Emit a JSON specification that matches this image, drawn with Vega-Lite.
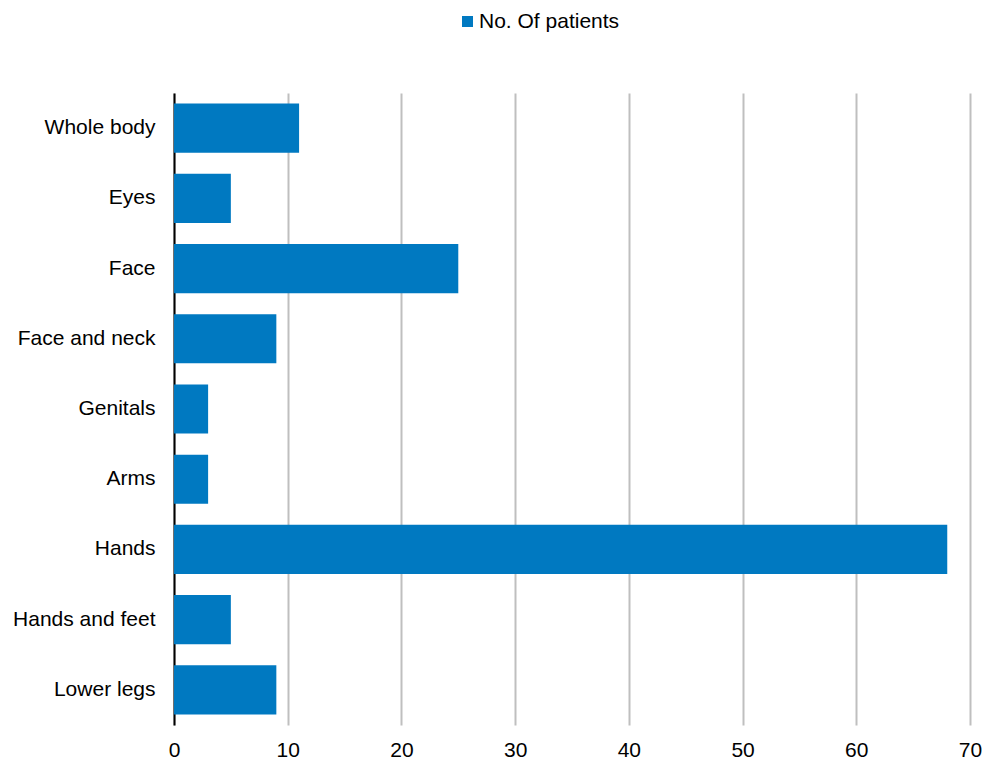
{
  "$schema": "https://vega.github.io/schema/vega-lite/v6.json",
  "autosize": "none",
  "width": 796,
  "height": 632,
  "padding": {"left": 174, "top": 93, "right": 16, "bottom": 42},
  "background": "white",
  "data": {
    "values": [
      {"site": "Whole body", "patients": 11},
      {"site": "Eyes", "patients": 5},
      {"site": "Face", "patients": 25},
      {"site": "Face and neck\u00a0", "patients": 9},
      {"site": "Genitals", "patients": 3},
      {"site": "Arms", "patients": 3},
      {"site": "Hands", "patients": 68},
      {"site": "Hands and feet", "patients": 5},
      {"site": "Lower legs", "patients": 9}
    ]
  },
  "config": {
    "view": {"stroke": null},
    "font": "Liberation Sans"
  },
  "mark": {"type": "bar"},
  "encoding": {
    "y": {
      "field": "site",
      "type": "nominal",
      "sort": null,
      "title": null,
      "scale": {"paddingInner": 0.3, "paddingOuter": 0.15},
      "axis": {
        "domainColor": "#000000",
        "domainWidth": 2,
        "ticks": false,
        "labelFont": "Liberation Sans",
        "labelFontSize": 21,
        "labelColor": "#000000",
        "labelPadding": 19
      }
    },
    "x": {
      "field": "patients",
      "type": "quantitative",
      "title": null,
      "scale": {"domain": [0, 70], "nice": false},
      "axis": {
        "values": [0, 10, 20, 30, 40, 50, 60, 70],
        "domain": false,
        "ticks": false,
        "grid": true,
        "gridColor": "#bfbfbf",
        "gridWidth": 2,
        "labelFlush": false,
        "labelFont": "Liberation Sans",
        "labelFontSize": 21,
        "labelColor": "#000000",
        "labelPadding": 14
      }
    },
    "color": {
      "datum": "No. Of patients",
      "type": "nominal",
      "scale": {"range": ["#0079c1"]},
      "legend": {
        "title": null,
        "orient": "none",
        "legendX": 283,
        "legendY": -82,
        "symbolType": "square",
        "symbolSize": 121,
        "symbolStrokeWidth": 0,
        "labelFont": "Liberation Sans",
        "labelFontSize": 21,
        "labelColor": "#000000",
        "labelOffset": 1
      }
    }
  }
}
